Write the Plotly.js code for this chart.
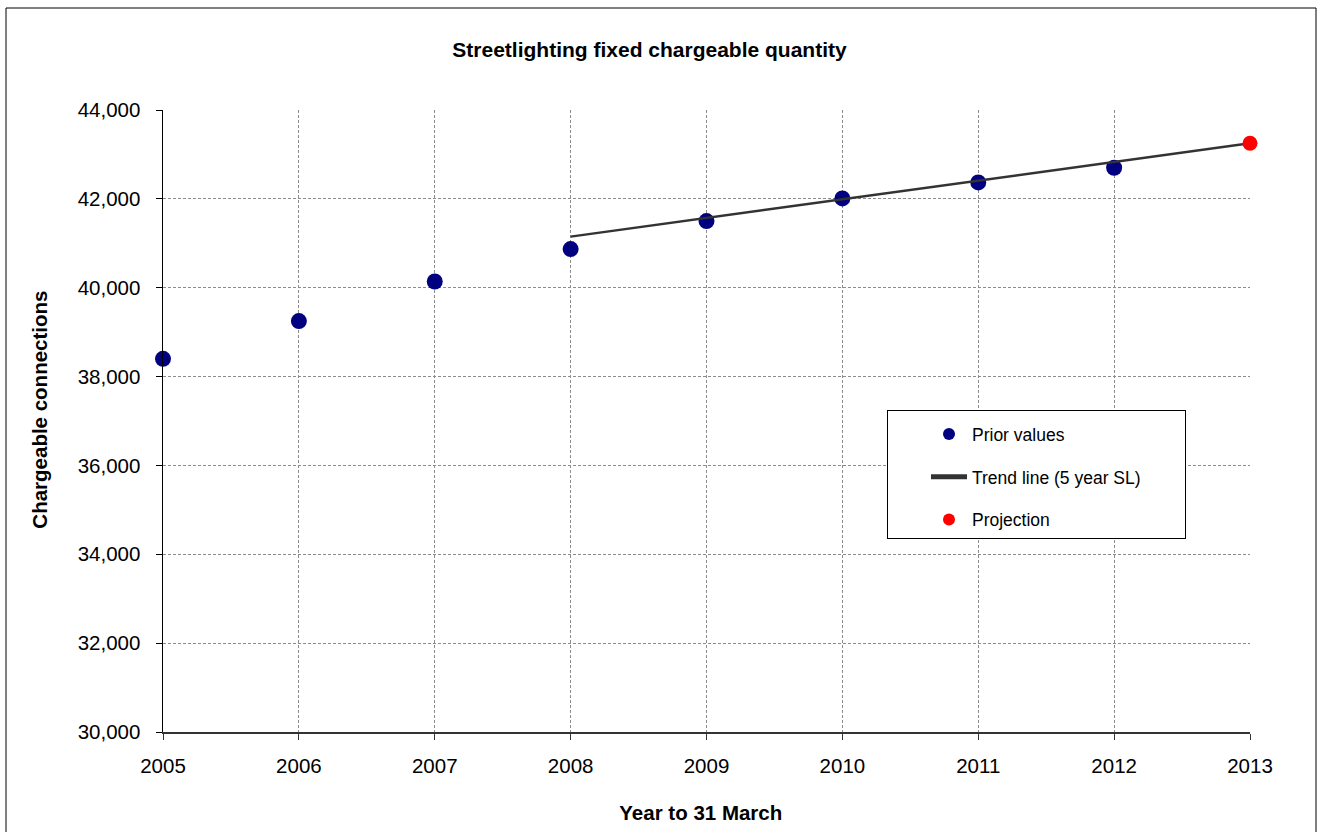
<!DOCTYPE html>
<html>
<head>
<meta charset="utf-8">
<script src="https://cdn.plot.ly/plotly-3.0.1.min.js"></script>
<style>
html,body{margin:0;padding:0;background:#fff;}
#chart{width:1323px;height:832px;}
</style>
</head>
<body>
<div id="chart"></div>
<script>
// Data
const priorYears = [2005, 2006, 2007, 2008, 2009, 2010, 2011, 2012];
const priorValues = [38400, 39250, 40140, 40870, 41500, 42010, 42370, 42700];
const trendYears = [2008, 2013];
const trendValues = [41150, 43250];
const projYears = [2013];
const projValues = [43250];
const xTicks = [2005, 2006, 2007, 2008, 2009, 2010, 2011, 2012, 2013];
const yTicks = [30000, 32000, 34000, 36000, 38000, 40000, 42000, 44000];

const FONT = 'Liberation Sans, Arial, sans-serif';
const PAD = '&nbsp;'.repeat(8);

const traces = [
  {
    x: priorYears, y: priorValues, type: 'scatter', mode: 'markers',
    name: 'Prior values', legendgroup: 'a', cliponaxis: false,
    marker: {color: '#000080', size: 16}
  },
  {
    x: trendYears, y: trendValues, type: 'scatter', mode: 'lines',
    name: 'Trend line (5 year SL)' + PAD, legendgroup: 'b', cliponaxis: false,
    line: {color: '#333333', width: 2.5}
  },
  {
    x: projYears, y: projValues, type: 'scatter', mode: 'markers',
    name: 'Projection', legendgroup: 'c', cliponaxis: false,
    marker: {color: '#ff0000', size: 15}
  }
];

const layout = {
  width: 1323, height: 832,
  margin: {l: 163, r: 73, t: 110, b: 100},
  paper_bgcolor: '#fff', plot_bgcolor: '#fff',
  font: {family: FONT, color: '#000', size: 20.5},
  title: {
    text: '<b>Streetlighting fixed chargeable quantity</b>',
    font: {family: FONT, size: 21, color: '#000'},
    xref: 'container', x: 649.5 / 1323, xanchor: 'center',
    yref: 'container', y: 1 - 50/832, yanchor: 'middle'
  },
  xaxis: {
    range: [2005, 2013], tickvals: xTicks, ticktext: xTicks.map(String),
    showgrid: true, gridcolor: '#8c8c8c', gridwidth: 1, griddash: '3px,2px',
    showline: true, linecolor: '#333', linewidth: 2,
    ticks: 'outside', ticklen: 6, tickcolor: '#333', tickwidth: 1,
    ticklabelstandoff: 8,
    tickfont: {family: FONT, size: 20.5, color: '#000'},
    zeroline: false,
    title: {text: '<b>Year to 31 March&nbsp;&nbsp;</b>', font: {family: FONT, size: 20.5, color: '#000'}, standoff: 30}
  },
  yaxis: {
    range: [30000, 44000], tickvals: yTicks, tickformat: ',d',
    showgrid: true, gridcolor: '#8c8c8c', gridwidth: 1, griddash: '3px,2px',
    showline: true, linecolor: '#000', linewidth: 1.5,
    ticks: 'outside', ticklen: 6, tickcolor: '#000', tickwidth: 1,
    ticklabelstandoff: 11,
    tickfont: {family: FONT, size: 20.5, color: '#000'},
    zeroline: false,
    title: {text: '<b>&nbsp;&nbsp;&nbsp;&nbsp;Chargeable connections</b>', font: {family: FONT, size: 20.5, color: '#000'}, standoff: 24}
  },
  showlegend: true,
  legend: {
    x: (887 - 163) / 1087, y: (732 - 410) / 622, xanchor: 'left', yanchor: 'top',
    bgcolor: '#fff', bordercolor: '#000', borderwidth: 1,
    font: {family: FONT, size: 17.5, color: '#000'},
    traceorder: 'grouped', tracegroupgap: 17,
    itemsizing: 'constant',
    itemwidth: 36, indentation: 38,
    title: {text: '&nbsp;', font: {size: 4}}
  },
  shapes: [
    {type: 'rect', xref: 'paper', yref: 'paper',
     x0: (6 - 163) / 1087, x1: (1316 - 163) / 1087,
     y0: (732 - 840) / 622, y1: (732 - 8) / 622,
     line: {color: '#000', width: 1}, fillcolor: 'rgba(0,0,0,0)', layer: 'below'}
  ]
};

Plotly.newPlot('chart', traces, layout, {staticPlot: true, displayModeBar: false});
</script>
</body>
</html>
